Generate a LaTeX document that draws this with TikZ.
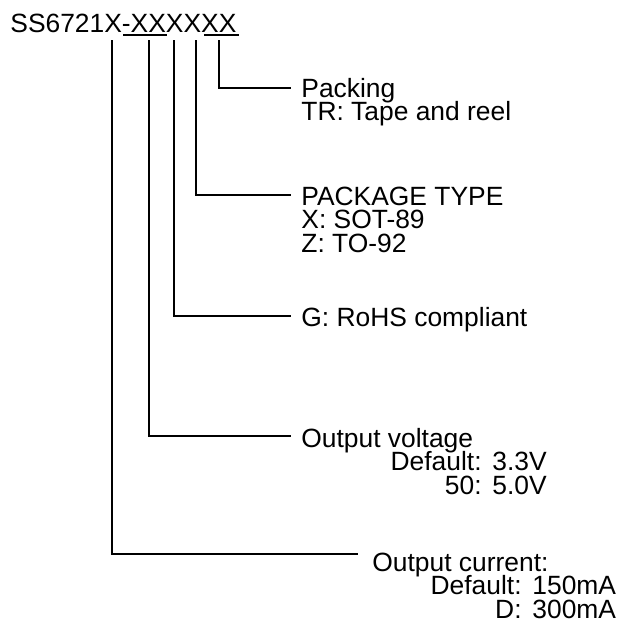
\documentclass[tikz,border=0pt]{standalone}
\usepackage{fontspec}
\setmainfont{Liberation Sans}
\usetikzlibrary{positioning}

\begin{document}
\begin{tikzpicture}[x=0.5pt, y=-0.5pt,
    txt/.style={anchor=base west, inner sep=0pt,
                font=\fontsize{13.2}{15}\selectfont},
    key/.style={txt, anchor=base east},
    lead/.style={line width=0.65pt},
    mainlead/.style={line width=1.4pt},
    uline/.style={line width=1pt}
]
    \useasboundingbox (0,0) rectangle (628,632);

    % Part number
    \node[txt] (part) at (10,32) {SS6721X-XXXXXX};
    \draw[uline] (123,35) -- (167,35);
    \draw[uline] (204,35) -- (239,35);

    % Taps under the part number
    \coordinate (tapI) at (112,40);
    \coordinate (tapV) at (149,40);
    \coordinate (tapG) at (174,40);
    \coordinate (tapP) at (196,40);
    \coordinate (tapT) at (219,40);

    % Packing
    \node[txt] (pack) at (301,97) {Packing};
    \node[txt] (packA) at (301,120.5) {TR: Tape and reel};
    \coordinate (packIn) at (291,88);
    \draw[lead] (tapT) |- (packIn);

    % Package type
    \node[txt] (type) at (301,205) {PACKAGE TYPE};
    \node[txt] (typeA) at (301,228.5) {X: SOT-89};
    \node[txt] (typeB) at (301,252) {Z: TO-92};
    \coordinate (typeIn) at (291,195);
    \draw[lead] (tapP) |- (typeIn);

    % RoHS
    \node[txt] (rohs) at (301,326) {G: RoHS compliant};
    \coordinate (rohsIn) at (291,316);
    \draw[lead] (tapG) |- (rohsIn);

    % Output voltage
    \node[txt] (volt) at (301,447) {Output voltage};
    \node[key] (voltAk) at (482,470.5) {Default:};
    \node[txt] (voltAv) at (492,470.5) {3.3V};
    \node[key] (voltBk) at (482,494) {50:};
    \node[txt] (voltBv) at (492,494) {5.0V};
    \coordinate (voltIn) at (291,436);
    \draw[lead] (tapV) |- (voltIn);

    % Output current
    \node[txt] (curr) at (372,571) {Output current:};
    \node[key] (currAk) at (522,594.5) {Default:};
    \node[txt] (currAv) at (532,594.5) {150mA};
    \node[key] (currBk) at (522,618) {D:};
    \node[txt] (currBv) at (532,618) {300mA};
    \coordinate (currIn) at (358,554);
    \draw[mainlead] (tapI) |- (currIn);
\end{tikzpicture}
\end{document}
